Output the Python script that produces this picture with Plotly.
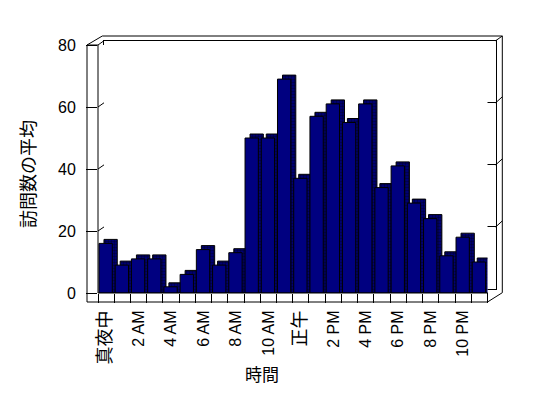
import plotly.graph_objects as go

# ---------------- data ----------------
hours = list(range(24))
visits = [16, 9, 11, 11, 2, 6, 14, 9, 13, 50, 50, 69, 37, 57, 61, 55, 61, 34, 41, 29, 24, 12, 18, 10]
tick_hours = [0, 2, 4, 6, 8, 10, 12, 14, 16, 18, 20, 22]
tick_labels = ['<span style="font-size:18px">真夜中</span>', "2 AM", "4 AM", "6 AM", "8 AM", "10 AM",
               '<span style="font-size:18px">正午</span>', "2 PM", "4 PM", "6 PM", "8 PM", "10 PM"]
y_ticks = [0, 20, 40, 60, 80]
x_title = "時間"
y_title = "訪問数の平均"

# ---------------- geometry (pixels, in page coordinates) ----------------
OFF = 8                                     # default body margin of the page
W, H = 548 - OFF, 398 - OFF
PL, PR, PT, PB = 87, 502, 36, 302           # paper area
FL, FR, FT, FB = 98, 487.5, 45, 293         # front (bars) plane
BL, BR, BT, BB = 104, 495.7, 40.7, 289      # back wall plane
OUT_R, OUT_T = 502.3, 36                    # outer wall edges


def X(px):
    return (px - PL) / (PR - PL)


def Y(py):
    return (PB - py) / (PB - PT)


ppu = (FB - FT) / 80.0                       # pixels per value unit
depth_units = 4 / ppu
cat_px = (FR - FL) / 24.0
bar_w = 0.82
bar_off = -0.44
shadow_off = bar_off + 5 / cat_px

fig = go.Figure()

# empty trace for back-wall axes
fig.add_trace(go.Scatter(x=[], y=[], xaxis="x", yaxis="y", showlegend=False, hoverinfo="skip"))

# side/top faces (shadow)
fig.add_trace(go.Bar(
    x=hours, y=[v + depth_units for v in visits], xaxis="x2", yaxis="y2",
    width=bar_w, offset=shadow_off, showlegend=False, hoverinfo="skip",
    marker=dict(color="#000050", line=dict(color="black", width=1),
                pattern=dict(shape=".", fgcolor="black", bgcolor="#000080", size=3, solidity=0.5)),
))
# front faces
fig.add_trace(go.Bar(
    x=hours, y=visits, xaxis="x2", yaxis="y2",
    width=bar_w, offset=bar_off, showlegend=False,
    marker=dict(color="#000080", line=dict(color="black", width=1)),
))

shapes = []


def line(x0, y0, x1, y1):
    shapes.append(dict(type="line", xref="paper", yref="paper",
                       x0=X(x0), y0=Y(y0), x1=X(x1), y1=Y(y1),
                       line=dict(color="black", width=1), layer="above"))


# left wall
line(PL, FT, PL, PB)
line(FL, FT, FL, FB)
line(PL, FT, FL, FT)
line(PL, FT, 102.3, OUT_T)
line(FL, FT, BL, BT)
# back wall outer edges
line(102.3, OUT_T, OUT_R, OUT_T)
line(OUT_R, OUT_T, OUT_R, 292.7)
line(BR, BT, OUT_R, OUT_T)
# floor front band
line(PL, PB, FR, PB)
line(FL, FB, FR, FB)
line(FR, FB, FR, PB)
line(FR, PB, OUT_R, 292.7)
# gridline connectors
back_ppu = (BB - BT) / 80.0
for v in y_ticks[1:-1]:
    yf = FB - v * ppu
    yb = BB - v * back_ppu
    line(FL, yf, BL, yb)
    line(BR, yb, OUT_R, yb - 6)

fig.update_layout(
    width=W, height=H, autosize=False,
    margin=dict(l=PL - OFF, r=548 - PR, t=PT - OFF, b=398 - PB, pad=0),
    paper_bgcolor="white", plot_bgcolor="white",
    barmode="overlay",
    font=dict(family="Liberation Sans, Noto Sans CJK JP", color="black", size=16),
    xaxis=dict(domain=[X(BL), X(BR)], range=[0, 1], anchor="y", showgrid=False,
               showticklabels=False, ticks="", showline=True, mirror=True,
               linecolor="black", linewidth=1, zeroline=False),
    yaxis=dict(domain=[Y(BB), Y(BT)], range=[0, 80], anchor="x", tickvals=y_ticks,
               showgrid=True, gridcolor="black", gridwidth=1, showticklabels=False,
               ticks="", showline=True, mirror=True, linecolor="black", linewidth=1,
               zeroline=False),
    xaxis2=dict(domain=[X(FL), X(FR)], range=[-0.5, 23.5], anchor="y2",
                tickmode="array", tickvals=tick_hours, ticktext=tick_labels,
                tickangle=-90, ticks="outside", ticklen=9, tickcolor="rgba(0,0,0,0)",
                ticklabelstandoff=1,
                minor=dict(tickvals=[h - 0.5 for h in hours] + [23.5], ticks="outside",
                           ticklen=9, tickcolor="black", tickwidth=1, showgrid=False),
                showgrid=False, showline=False, zeroline=False,
                tickfont=dict(size=16)),
    yaxis2=dict(domain=[Y(FB), Y(FT)], range=[0, 80], anchor="x2", tickvals=y_ticks,
                ticks="outside", ticklen=11, tickcolor="black", tickwidth=1,
                ticklabelstandoff=7, showgrid=False, showline=False, zeroline=False,
                tickfont=dict(size=16)),
    shapes=shapes,
    annotations=[
        dict(text=y_title, xref="paper", yref="paper", x=X(28.5), y=Y(174.5),
             textangle=-90, showarrow=False, font=dict(size=18),
             xanchor="center", yanchor="middle"),
        dict(text=x_title, xref="paper", yref="paper", x=X(262), y=Y(375.5),
             showarrow=False, font=dict(size=17), xanchor="center", yanchor="middle"),
    ],
)

fig.write_html("out.html")
